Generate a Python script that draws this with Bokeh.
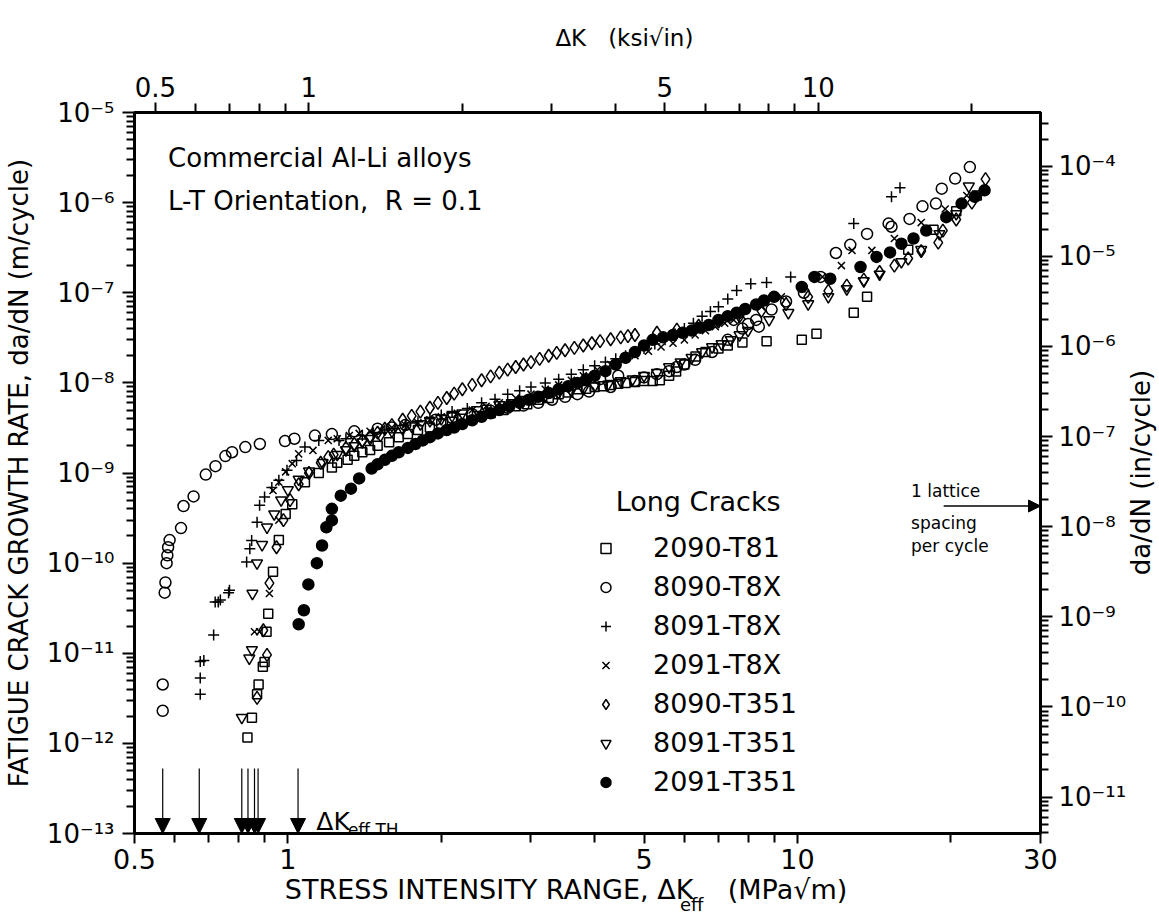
from math import log10, pi
from bokeh.plotting import figure
from bokeh.models import (Range1d, LogAxis, LogScale, FixedTicker, CustomJSTickFormatter,
                          Label, Legend, LegendItem, Arrow, NormalHead)
from bokeh.embed import file_html
from bokeh.resources import INLINE

FONT = "DejaVu Sans"
NB = "\u00a0"

# ---------------- data (ΔK_eff in MPa√m, da/dN in m/cycle) ----------------
t81_x = [0.833, 0.850, 0.870, 0.876, 0.893, 0.900, 0.908, 0.915, 0.935, 0.960, 0.990, 1.02, 1.08,
         1.15, 1.22, 1.25, 1.31, 1.35, 1.40, 1.45, 1.50, 1.58, 1.65, 1.72, 1.80, 1.90, 2.00, 2.10,
         2.20, 2.35, 2.50, 2.65, 2.80, 2.95, 3.10, 3.25, 3.40, 3.55, 3.70, 3.85, 4.00, 4.15, 4.30,
         4.45, 4.60, 4.80, 5.00, 5.20, 5.37, 5.60, 5.78, 6.00, 6.31, 6.60, 7.00, 7.30, 7.80, 8.70,
         10.2, 10.9, 12.9, 13.7, 16.5, 18.5, 20.5, 22.5]
t81_y = [1.16e-12, 1.93e-12, 3.5e-12, 4.5e-12, 7.1e-12, 8e-12, 1.73e-11, 2.75e-11, 8e-11, 1.8e-10,
         3.5e-10, 4.5e-10, 7.9e-10, 1.0e-9, 1.15e-9, 1.3e-9, 1.4e-9, 1.55e-9, 1.7e-9, 1.8e-9, 2.0e-9,
         2.2e-9, 2.5e-9, 2.7e-9, 3.0e-9, 3.2e-9, 3.5e-9, 3.7e-9, 4.0e-9, 4.3e-9, 4.6e-9, 5.0e-9,
         5.5e-9, 5.8e-9, 6.5e-9, 6.8e-9, 7.5e-9, 7.8e-9, 8.5e-9, 8.6e-9, 9.0e-9, 9.2e-9, 9.5e-9,
         9.8e-9, 1.0e-8, 1.02e-8, 1.05e-8, 1.05e-8, 1.07e-8, 1.2e-8, 1.34e-8, 1.6e-8, 1.96e-8,
         2.2e-8, 2.4e-8, 2.6e-8, 2.8e-8, 2.9e-8, 3.0e-8, 3.5e-8, 6.0e-8, 9.0e-8, 3.0e-7, 5.0e-7,
         8.0e-7, 1.2e-6]

t8x_x = [0.568, 0.568, 0.573, 0.575, 0.578, 0.580, 0.582, 0.586, 0.617, 0.624, 0.653, 0.690, 0.721,
         0.754, 0.777, 0.825, 0.881, 0.987, 1.03, 1.13, 1.22, 1.35, 1.50, 1.60, 1.70, 1.95, 2.10,
         2.30, 2.50, 2.70, 2.90, 3.10, 3.30, 3.50, 3.70, 3.90, 4.10, 4.30, 4.45, 4.80, 5.00, 5.30,
         5.60, 5.80, 6.00, 6.30, 6.80, 7.30, 7.50, 7.80, 8.00, 8.30, 8.40, 8.90, 9.50, 10.3, 11.1,
         11.9, 12.7, 13.7, 15.1, 15.3, 16.6, 17.6, 18.7, 19.2, 20.4, 21.8]
t8x_y = [2.3e-12, 4.5e-12, 4.7e-11, 6.1e-11, 1.0e-10, 1.22e-10, 1.5e-10, 1.8e-10, 2.45e-10, 4.3e-10,
         5.5e-10, 9.6e-10, 1.19e-9, 1.54e-9, 1.7e-9, 1.94e-9, 2.1e-9, 2.26e-9, 2.4e-9, 2.6e-9, 2.7e-9,
         2.9e-9, 3.1e-9, 3.2e-9, 3.4e-9, 3.9e-9, 4.1e-9, 4.5e-9, 4.9e-9, 5.3e-9, 5.6e-9, 6.0e-9,
         6.5e-9, 7.0e-9, 7.5e-9, 8.0e-9, 1.1e-8, 9.0e-9, 1.2e-8, 1.05e-8, 1.15e-8, 1.25e-8, 1.35e-8,
         1.5e-8, 1.6e-8, 1.8e-8, 2.2e-8, 3.0e-8, 5.0e-8, 4.0e-8, 4.5e-8, 5.0e-8, 4.2e-8, 6.5e-8,
         8.0e-8, 1.0e-7, 1.5e-7, 2.76e-7, 3.4e-7, 4.5e-7, 5.85e-7, 5.4e-7, 6.6e-7, 9.1e-7, 9.75e-7,
         1.43e-6, 1.85e-6, 2.48e-6]

p91_x = [0.673, 0.673, 0.673, 0.684, 0.715, 0.720, 0.730, 0.737, 0.765, 0.768, 0.830, 0.842, 0.849,
         0.870, 0.880, 0.900, 0.930, 0.960, 0.996, 1.04, 1.08, 1.15, 1.26, 1.30, 1.40, 1.47, 1.55,
         1.62, 1.70, 1.80, 1.90, 2.00, 2.10, 2.25, 2.40, 2.55, 2.70, 2.85, 3.00, 3.20, 3.40, 3.60,
         3.80, 4.00, 4.20, 4.40, 4.60, 4.80, 5.00, 5.25, 5.50, 5.75, 6.00, 6.25, 6.50, 6.75, 7.00,
         7.30, 7.60, 8.10, 8.70, 9.70, 12.9, 15.3, 15.9]
p91_y = [3.5e-12, 5.3e-12, 8.1e-12, 8.3e-12, 1.59e-11, 3.7e-11, 3.7e-11, 3.9e-11, 4.7e-11, 5e-11,
         1.03e-10, 1.44e-10, 1.78e-10, 2.85e-10, 4.4e-10, 5.4e-10, 6.9e-10, 8.3e-10, 1.07e-9, 1.38e-9,
         1.94e-9, 2.3e-9, 2.3e-9, 2.4e-9, 2.6e-9, 2.8e-9, 3.0e-9, 3.1e-9, 3.4e-9, 3.7e-9, 4.0e-9,
         4.4e-9, 4.8e-9, 5.2e-9, 6.0e-9, 6.6e-9, 7.5e-9, 8.2e-9, 9.0e-9, 1.0e-8, 1.1e-8, 1.25e-8,
         1.4e-8, 1.55e-8, 1.7e-8, 1.85e-8, 2.0e-8, 2.2e-8, 2.4e-8, 2.7e-8, 3.0e-8, 3.5e-8, 4.0e-8,
         4.6e-8, 5.5e-8, 6.2e-8, 7.0e-8, 8.5e-8, 1.06e-7, 1.26e-7, 1.3e-7, 1.5e-7, 5.85e-7, 1.16e-6,
         1.46e-6]

x91_x = [0.86, 0.88, 0.92, 0.935, 0.96, 0.96, 0.99, 1.02, 1.05, 1.12, 1.20, 1.25, 1.32, 1.38, 1.45,
         1.52, 1.60, 1.70, 1.80, 1.90, 2.00, 2.15, 2.30, 2.45, 2.60, 2.80, 3.00, 3.20, 3.40, 3.60,
         3.80, 4.05, 4.30, 4.55, 4.80, 5.10, 5.40, 5.70, 6.00, 6.30, 6.60, 6.90, 7.20, 7.50, 7.80,
         8.50, 9.30, 10.2, 11.2, 12.2, 12.8, 14.0, 15.5, 17.5, 19.5, 21.5]
x91_y = [1.73e-11, 1.73e-11, 4.6e-11, 6.4e-10, 3.0e-10, 7.9e-10, 1.03e-9, 1.27e-9, 1.63e-9, 1.78e-9,
         2.3e-9, 2.4e-9, 2.6e-9, 2.75e-9, 2.9e-9, 3.0e-9, 3.2e-9, 3.4e-9, 3.6e-9, 3.9e-9, 4.2e-9,
         4.6e-9, 5.0e-9, 5.5e-9, 6.0e-9, 6.8e-9, 7.5e-9, 8.5e-9, 9.5e-9, 1.07e-8, 1.2e-8, 1.4e-8,
         1.6e-8, 1.8e-8, 2.0e-8, 2.25e-8, 2.5e-8, 2.75e-8, 3.0e-8, 3.4e-8, 3.8e-8, 4.2e-8, 4.6e-8,
         5.0e-8, 5.5e-8, 7.0e-8, 9.0e-8, 1.1e-7, 1.5e-7, 2.0e-7, 2.95e-7, 2.95e-7, 4.0e-7, 6.0e-7,
         8.5e-7, 1.2e-6]

d351_x = [0.87, 0.91, 0.895, 0.92, 0.95, 0.98, 1.01, 1.05, 1.10, 1.16, 1.20, 1.23, 1.30, 1.35, 1.40,
          1.45, 1.50, 1.55, 1.60, 1.68, 1.75, 1.82, 1.90, 1.97, 2.05, 2.12, 2.20, 2.30, 2.40, 2.50,
          2.60, 2.70, 2.80, 2.90, 3.00, 3.12, 3.25, 3.37, 3.50, 3.65, 3.80, 3.95, 4.10, 4.30, 4.50,
          4.65, 4.80, 5.30, 5.80, 6.40, 7.00, 7.70, 8.50, 9.50, 10.5, 11.5, 12.5, 13.5, 14.5, 15.5,
          16.5, 17.5, 18.9, 19.3, 20.5, 22.0, 23.4]
d351_y = [3.2e-12, 9.6e-12, 1.8e-11, 6e-11, 1.5e-10, 3e-10, 5e-10, 7.5e-10, 1.0e-9, 1.3e-9, 1.5e-9,
          1.6e-9, 1.9e-9, 2.1e-9, 2.3e-9, 2.55e-9, 2.8e-9, 3.1e-9, 3.4e-9, 3.9e-9, 4.3e-9, 4.8e-9,
          5.3e-9, 6.0e-9, 6.8e-9, 7.6e-9, 8.5e-9, 9.5e-9, 1.07e-8, 1.18e-8, 1.3e-8, 1.4e-8, 1.5e-8,
          1.6e-8, 1.7e-8, 1.85e-8, 2.0e-8, 2.15e-8, 2.3e-8, 2.45e-8, 2.6e-8, 2.75e-8, 2.9e-8, 3.05e-8,
          3.2e-8, 3.3e-8, 3.4e-8, 3.6e-8, 3.9e-8, 4.3e-8, 4.8e-8, 5.5e-8, 6.3e-8, 7.5e-8, 9e-8,
          1.05e-7, 1.2e-7, 1.4e-7, 1.7e-7, 2.0e-7, 2.4e-7, 2.9e-7, 3.6e-7, 4.9e-7, 6.5e-7, 1.0e-6,
          1.82e-6]

v351_x = [0.812, 0.84, 0.85, 0.852, 0.87, 0.89, 0.91, 0.94, 0.97, 1.00, 1.05, 1.10, 1.17, 1.25,
          1.30, 1.35, 1.40, 1.45, 1.52, 1.60, 1.68, 1.75, 1.82, 1.90, 2.00, 2.10, 2.20, 2.35, 2.45,
          2.60, 2.75, 2.90, 3.05, 3.20, 3.40, 3.60, 3.80, 4.00, 4.25, 4.50, 4.75, 5.00, 5.30, 5.60,
          5.90, 6.20, 6.50, 6.80, 7.10, 7.40, 7.70, 8.00, 8.80, 9.60, 10.5, 11.5, 12.5, 13.5, 14.5,
          16.0, 17.5, 19.0, 20.5, 21.7]
v351_y = [1.93e-12, 8.8e-12, 1.09e-11, 4.6e-11, 1e-10, 1.6e-10, 2.5e-10, 3.5e-10, 5e-10, 6.5e-10,
          8.5e-10, 1.05e-9, 1.3e-9, 1.6e-9, 1.8e-9, 2.0e-9, 2.2e-9, 2.4e-9, 2.6e-9, 2.9e-9, 3.1e-9,
          3.3e-9, 3.5e-9, 3.8e-9, 4.0e-9, 4.3e-9, 4.6e-9, 5.0e-9, 5.2e-9, 5.7e-9, 6.0e-9, 6.5e-9,
          6.8e-9, 7.3e-9, 7.8e-9, 8.2e-9, 8.6e-9, 9.2e-9, 9.6e-9, 1.05e-8, 1.1e-8, 1.2e-8, 1.3e-8,
          1.5e-8, 1.7e-8, 1.9e-8, 2.2e-8, 2.5e-8, 2.7e-8, 3.0e-8, 3.4e-8, 3.8e-8, 5.0e-8, 6.0e-8,
          7.5e-8, 9e-8, 1.1e-7, 1.35e-7, 1.6e-7, 2.2e-7, 3.0e-7, 4.5e-7, 7.5e-7, 1.52e-6]

f351_x = [1.05, 1.075, 1.097, 1.14, 1.167, 1.19, 1.22, 1.22, 1.27, 1.33, 1.38, 1.46, 1.50, 1.55,
          1.60, 1.65, 1.72, 1.78, 1.84, 1.90, 1.97, 2.05, 2.12, 2.20, 2.30, 2.40, 2.50, 2.60, 2.72,
          2.85, 2.97, 3.10, 3.25, 3.40, 3.55, 3.70, 3.85, 4.00, 4.20, 4.40, 4.60, 4.80, 5.00, 5.20,
          5.45, 5.70, 5.95, 6.20, 6.45, 6.70, 7.00, 7.30, 7.60, 7.90, 8.30, 8.60, 9.00, 10.2, 10.8,
          11.6, 13.3, 14.3, 15.2, 16.0, 16.9, 17.9, 19.6, 21.0, 22.3, 23.3]
f351_y = [2.1e-11, 3.0e-11, 5.8e-11, 1.0e-10, 1.57e-10, 2.5e-10, 2.98e-10, 4.0e-10, 5.6e-10, 6.7e-10,
          8.7e-10, 1.12e-9, 1.25e-9, 1.4e-9, 1.55e-9, 1.7e-9, 1.9e-9, 2.1e-9, 2.3e-9, 2.5e-9,
          2.75e-9, 3.0e-9, 3.2e-9, 3.5e-9, 3.85e-9, 4.2e-9, 4.6e-9, 5.0e-9, 5.5e-9, 6.0e-9, 6.5e-9,
          7.0e-9, 7.7e-9, 8.5e-9, 9.2e-9, 1.0e-8, 1.1e-8, 1.2e-8, 1.35e-8, 1.6e-8, 1.9e-8, 2.2e-8,
          2.6e-8, 3.0e-8, 3.2e-8, 3.4e-8, 3.6e-8, 3.8e-8, 4.1e-8, 4.4e-8, 5.0e-8, 5.5e-8, 6.0e-8,
          6.6e-8, 7.4e-8, 8.2e-8, 9.0e-8, 1.16e-7, 1.5e-7, 1.43e-7, 1.93e-7, 2.5e-7, 2.8e-7, 3.5e-7,
          4.0e-7, 4.9e-7, 6.9e-7, 9.75e-7, 1.16e-6, 1.37e-6]

dk_th = [0.568, 0.670, 0.812, 0.835, 0.860, 0.874, 1.047]
lattice_rate = 4.3e-10   # m/cycle

series_names = ["2090-T81", "8090-T8X", "8091-T8X", "2091-T8X", "8090-T351", "8091-T351", "2091-T351"]

x_major = [0.5, 1, 5, 10, 30]
x_minor = [0.6, 0.7, 0.8, 0.9, 2, 3, 4, 6, 7, 8, 9, 20]
ksi_major = [0.5, 1, 5, 10]
ksi_minor = [0.6, 0.7, 0.8, 0.9, 2, 3, 4, 6, 7, 8, 9, 20]
y_major = [1e-13, 1e-12, 1e-11, 1e-10, 1e-9, 1e-8, 1e-7, 1e-6, 1e-5]
in_major = [1e-11, 1e-10, 1e-9, 1e-8, 1e-7, 1e-6, 1e-5, 1e-4]

MPA_PER_KSI = 1.0988
IN_PER_M = 39.37

# ---------------- layout geometry ----------------
W, H = 1159, 916
FL, FR, FT, FB = 126, 1043, 112, 833
X0, X1 = 0.5, 30.0
Y0, Y1 = 1e-13, 1e-5


def xd(px):
    return X0 * 10 ** ((px - FL) / (FR - FL) * log10(X1 / X0))


def yd(py):
    return Y0 * 10 ** ((FB - py) / (FB - FT) * log10(Y1 / Y0))


def minor_decades(lo_exp, hi_exp, lo=None, hi=None):
    out = []
    for e in range(lo_exp, hi_exp + 1):
        for m in range(2, 10):
            v = m * 10.0 ** e
            if (lo is None or v > lo) and (hi is None or v < hi):
                out.append(v)
    return out


p = figure(width=W, height=H, x_axis_type="log", y_axis_type="log",
           x_range=Range1d(X0, X1), y_range=Range1d(Y0, Y1),
           output_backend="svg", toolbar_location=None,
           min_border_left=FL, min_border_right=W - FR, min_border_top=FT, min_border_bottom=H - FB)
p.grid.visible = False
p.outline_line_color = "black"
p.outline_line_width = 3
p.background_fill_color = "white"
p.border_fill_color = "white"

p.extra_x_ranges = {"ksi": Range1d(X0 / MPA_PER_KSI, X1 / MPA_PER_KSI)}
p.extra_x_scales = {"ksi": LogScale()}
p.extra_y_ranges = {"inch": Range1d(Y0 * IN_PER_M, Y1 * IN_PER_M)}
p.extra_y_scales = {"inch": LogScale()}

sup_code = """
const e = Math.round(Math.log10(tick));
const m = {"-":"\\u207b","0":"\\u2070","1":"\\u00b9","2":"\\u00b2","3":"\\u00b3","4":"\\u2074",
           "5":"\\u2075","6":"\\u2076","7":"\\u2077","8":"\\u2078","9":"\\u2079"};
let s = "";
for (const c of String(e)) { s += m[c]; }
return "10" + s;
"""
plain_code = "return String(Math.round(tick * 1000) / 1000);"


def style_axis(ax, major_len, minor_len, fs="26px"):
    ax.axis_line_width = 3
    ax.major_tick_line_width = 2
    ax.minor_tick_line_width = 2
    ax.major_tick_in = 0
    ax.minor_tick_in = 0
    ax.major_tick_out = major_len
    ax.minor_tick_out = minor_len
    ax.major_label_text_font = FONT
    ax.major_label_text_font_size = fs
    ax.major_label_text_color = "black"
    ax.axis_label_text_font = FONT
    ax.axis_label_text_font_style = "normal"
    ax.axis_label_text_color = "black"


xa = p.xaxis[0]
xa.ticker = FixedTicker(ticks=x_major, minor_ticks=x_minor)
xa.formatter = CustomJSTickFormatter(code=plain_code)
style_axis(xa, 10, 9, "27px")
xa.major_label_standoff = 5
xa.axis_label = "STRESS INTENSITY RANGE, ΔK" + NB * 4 + "(MPa√m)" + NB * 5
xa.axis_label_text_font_size = "27px"
xa.axis_label_standoff = 2

ya = p.yaxis[0]
ya.ticker = FixedTicker(ticks=y_major, minor_ticks=minor_decades(-13, -6))
ya.formatter = CustomJSTickFormatter(code=sup_code)
style_axis(ya, 12, 8, "26px")
ya.major_label_standoff = 8
ya.axis_label = "FATIGUE CRACK GROWTH RATE, da/dN (m/cycle)"
ya.axis_label_text_font_size = "26px"
ya.axis_label_standoff = 10

top = LogAxis(x_range_name="ksi")
top.ticker = FixedTicker(ticks=ksi_major, minor_ticks=ksi_minor)
top.formatter = CustomJSTickFormatter(code=plain_code)
style_axis(top, 10, 9, "26px")
top.major_label_standoff = 6
p.add_layout(top, "above")

right = LogAxis(y_range_name="inch")
right.ticker = FixedTicker(ticks=in_major,
                           minor_ticks=minor_decades(-12, -4, Y0 * IN_PER_M, Y1 * IN_PER_M))
right.formatter = CustomJSTickFormatter(code=sup_code)
style_axis(right, 12, 8, "26px")
right.major_label_standoff = 6
p.add_layout(right, "right")

# ---------------- data marks ----------------
common = dict(line_color="black", line_width=1.5)
r1 = p.scatter(t81_x, t81_y, marker="square", size=9, fill_color=None, **common)
r2 = p.scatter(t8x_x, t8x_y, marker="circle", size=11, fill_color=None, **common)
r3 = p.scatter(p91_x, p91_y, marker="cross", size=11, **common)
r4 = p.scatter(x91_x, x91_y, marker="x", size=10, **common)
r5 = p.scatter(d351_x, d351_y, marker="diamond", size=13, fill_color=None, **common)
r6 = p.scatter(v351_x, v351_y, marker="inverted_triangle", size=11, fill_color=None, **common)
r7 = p.scatter(f351_x, f351_y, marker="circle", size=11, fill_color="black", **common)
renderers = [r1, r2, r3, r4, r5, r6, r7]

legend = Legend(items=[LegendItem(label=n, renderers=[r]) for n, r in zip(series_names, renderers)],
                location=(585 - FL, FB - 797), orientation="vertical",
                label_text_font=FONT, label_text_font_size="27px", label_text_color="black",
                glyph_width=25, glyph_height=30, label_height=30, label_standoff=35,
                spacing=8, padding=0, margin=0,
                border_line_color=None, background_fill_alpha=0)
p.add_layout(legend, "center")

# threshold arrows
for v in dk_th:
    p.add_layout(Arrow(end=NormalHead(size=15, fill_color="black", line_color="black", line_width=1),
                       x_start=v, y_start=yd(768), x_end=v, y_end=Y0,
                       line_color="black", line_width=1.2))

# lattice spacing arrow
p.add_layout(Arrow(end=NormalHead(size=12, fill_color="black", line_color="black", line_width=1),
                   x_start=xd(945), y_start=lattice_rate, x_end=X1, y_end=lattice_rate,
                   line_color="black", line_width=1.5))


def lab(text, px, py, size, align="left", baseline="middle", angle=0, place="center"):
    p.add_layout(Label(x=xd(px), y=yd(py), text=text, text_font=FONT, text_font_size=size,
                       text_color="black", text_align=align, text_baseline=baseline, angle=angle),
                 place)


lab("Commercial Al-Li alloys", 160, 157, "26px")
lab("L-T Orientation," + NB * 2 + "R = 0.1", 160, 200, "26px")
lab("Long Cracks", 613, 501, "27px")
lab("1 lattice", 912, 490, "17px")
lab("spacing", 912, 522, "17px")
lab("per cycle", 912, 545, "17px")
lab("ΔK", 310, 821, "25px", baseline="alphabetic")
lab("eff,TH", 342, 829, "17px", baseline="alphabetic")
# labels outside the frame live in side panels (so they are not clipped)
lab("ΔK" + NB * 3 + "(ksi√in)", 552, 37, "23px", place="above")
lab("eff", 678, 904, "18px", baseline="alphabetic", place="above")
lab("da/dN (in/cycle)", 1145, 472, "26px", align="center", angle=pi / 2, place="right")

open("out.html", "w").write(file_html(p, INLINE))
